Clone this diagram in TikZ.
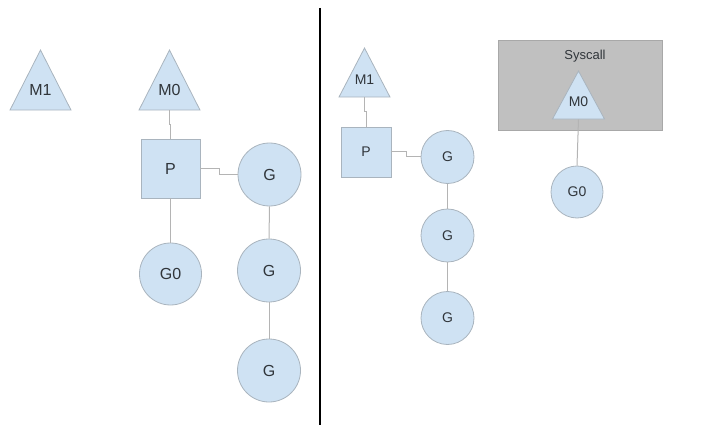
\documentclass[tikz,border=0pt]{standalone}
\usepackage{fontspec}
\setmainfont{Liberation Sans}
\usepackage{tikz}
\usetikzlibrary{shapes.geometric}
\definecolor{gblue}{HTML}{CFE2F3}
\definecolor{gedge}{HTML}{A9B4BE}
\definecolor{glink}{HTML}{B4B4B4}
\definecolor{gtext}{HTML}{30353A}
\definecolor{sysfill}{HTML}{C0C0C0}
\definecolor{sysedge}{HTML}{A8A8A8}
\tikzset{
  go node/.style={
    draw=gedge, fill=gblue, line width=0.8pt,
    text=gtext, inner sep=0pt
  },
  go m/.style={
    go node, isosceles triangle, shape border rotate=90,
    isosceles triangle stretches, anchor=apex
  },
  go p/.style={
    go node, rectangle
  },
  go g/.style={
    go node, circle
  },
  go link/.style={
    draw=glink, line width=1pt
  },
  m tag/.style={text=gtext, anchor=center},
  big/.style={font=\fontsize{16}{18}\selectfont},
  small/.style={font=\fontsize{14}{16}\selectfont}
}

\begin{document}
\begin{tikzpicture}[x=1pt, y=1pt]
  \useasboundingbox (0,0) rectangle (710,-425);

  % left half: M0 bound to P
  \node (m1l) [go m, minimum width=61pt, minimum height=60pt,
    label={[m tag, big, yshift=-41pt]apex:M1}] at (40.5,-49) {};
  \node (m0l) [go m, minimum width=61pt, minimum height=60pt,
    label={[m tag, big, yshift=-41pt]apex:M0}] at (169.5,-49) {};
  \node (pl) [go p, big, minimum size=59pt] at (170.5,-168.5) {P};
  \node (g0l) [go g, big, minimum size=62pt] at (170.5,-274) {G0};
  \node (gl1) [go g, big, minimum size=63pt] at (269.5,-174.5) {G};
  \node (gl2) [go g, big, minimum size=63pt] at (269,-270.5) {G};
  \node (gl3) [go g, big, minimum size=63pt] at (269,-370.5) {G};

  \draw [go link] (m0l.lower side) -- ++(0,-14) -| (pl.north);
  \draw [go link] (pl.east) -- ++(19,0) |- (gl1.west);
  \draw [go link] (pl.south) -- (g0l.north);
  \draw [go link] (gl1.south) -- (gl2.north);
  \draw [go link] (gl2.south) -- (gl3.north);

  % divider
  \coordinate (divtop) at (320,-8);
  \coordinate (divbot) at (320,-425);
  \draw [line width=1.2pt] (divtop) -- (divbot);

  % right half: M0 blocked in syscall, M1 takes P
  \node (sys) [rectangle, draw=sysedge, fill=sysfill, line width=0.8pt,
    minimum width=164pt, minimum height=90pt] at (580,-85) {};
  \node (syslbl) [text=gtext, font=\fontsize{13}{15}\selectfont] at (585,-56) {Syscall};

  \node (m1r) [go m, minimum width=51pt, minimum height=49pt,
    label={[m tag, small, yshift=-33pt]apex:M1}] at (364.5,-47) {};
  \node (pr) [go p, small, minimum size=50pt] at (366,-152) {P};
  \node (gr1) [go g, small, minimum size=53pt] at (447.5,-157) {G};
  \node (gr2) [go g, small, minimum size=53pt] at (447.5,-235.5) {G};
  \node (gr3) [go g, small, minimum size=53pt] at (447.5,-318) {G};
  \node (m0r) [go m, minimum width=52pt, minimum height=48pt,
    label={[m tag, small, yshift=-32pt]apex:M0}] at (578.5,-70) {};
  \node (g0r) [go g, small, minimum size=52pt] at (577,-192) {G0};

  \draw [go link] (m1r.lower side) -- ++(0,-14) -| (pr.north);
  \draw [go link] (pr.east) -- ++(15,0) |- (gr1.west);
  \draw [go link] (gr1.south) -- (gr2.north);
  \draw [go link] (gr2.south) -- (gr3.north);
  \draw [go link] (m0r.lower side) -- (g0r.north);
\end{tikzpicture}
\end{document}
